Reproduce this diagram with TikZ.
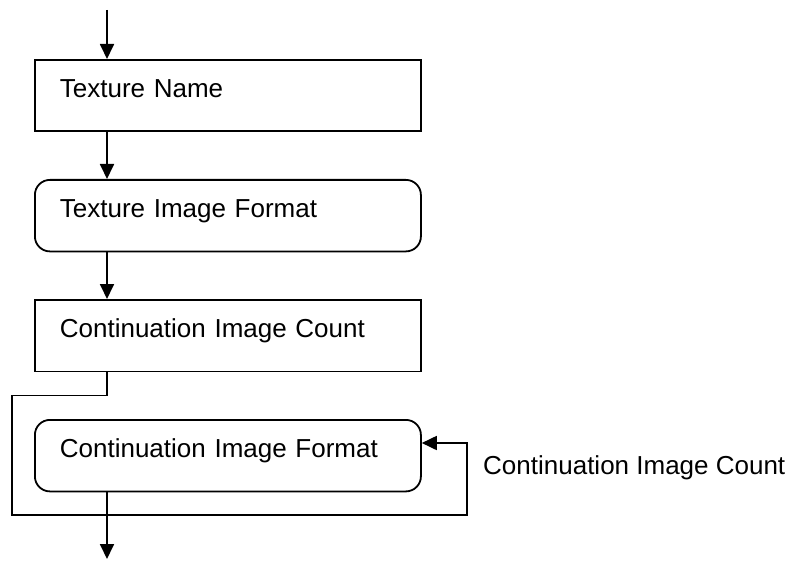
\documentclass[tikz,border=0pt]{standalone}
\usepackage{fontspec}
\setmainfont{Liberation Sans}
\usepackage{tikz}
\usetikzlibrary{arrows.meta,positioning,calc}
\definecolor{Ink}{HTML}{000000}
\tikzset{
  >={Triangle[length=15pt,width=14pt]},
  blk/.style={rectangle,draw=Ink,line width=1.8pt,fill=white,anchor=north west,
    text width=336pt,align=left,inner xsep=25pt,inner ysep=0pt,minimum height=71.5pt,
    text height=19pt,text depth=16pt,font=\fontsize{26}{31}\selectfont},
  rblk/.style={blk,rounded corners=15pt},
  flow/.style={->,line width=1.8pt,draw=Ink},
  lab/.style={font=\fontsize{26}{31}\selectfont,inner sep=0pt,anchor=west}
}
\begin{document}
\begin{tikzpicture}[x=1pt,y=1pt]
    \useasboundingbox (0,0) rectangle (799,-561);
    \node[blk] (tn) at (34,-59) {Texture Name};
    \node[rblk,below=46.7pt of tn] (tif) {Texture Image Format};
    \node[blk,below=46.7pt of tif] (cic) {Continuation Image Count};
    \node[rblk,below=46.7pt of cic] (cif) {Continuation Image Format};
    \node[lab] (cnt) at (483,-468) {Continuation Image Count};
    \coordinate (in) at (107,-10); \coordinate (out) at (107,-559);
    \coordinate (lp) at (12,-395.5); \coordinate (lpL) at (12,-515);
    \coordinate (bk) at (467,-443);
    \draw[flow] (in)--(in |- tn.north);
    \draw[flow] (in |- tn.south)--(in |- tif.north);
    \draw[flow] (in |- tif.south)--(in |- cic.north);
    \draw[flow] (in |- cic.south) |- (lp)--(lpL) -| (bk)--(bk -| cif.east);
    \draw[flow] (in |- cif.south)--(out);
  \end{tikzpicture}
\end{document}
